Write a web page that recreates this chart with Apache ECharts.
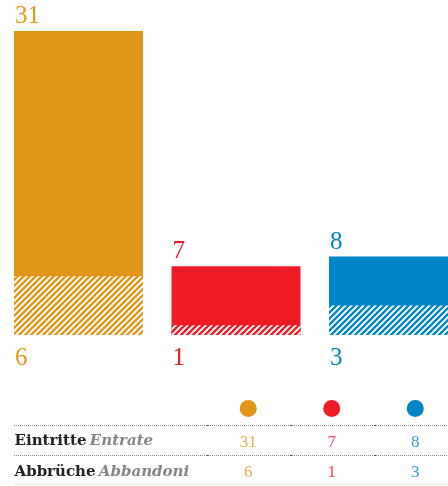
<!DOCTYPE html>
<html>
<head>
<meta charset="utf-8">
<script src="https://cdn.jsdelivr.net/npm/echarts@6/dist/echarts.min.js"></script>
<style>
html,body{margin:0;padding:0;background:#fff;}
#c{width:448px;height:486px;}
</style>
</head>
<body>
<div id="c"></div>
<script>
// ---- data ----
const categories = ['Orange', 'Rot', 'Blau'];
const entrate = [31, 7, 8];
const abbandoni = [6, 1, 3];
const rowDe = ['Eintritte', 'Abbrüche'];
const rowIt = ['Entrate', 'Abbandoni'];
const tableRows = ['', 'Entrate', 'Abbandoni'];

// ---- styles ----
const palette = ['#E1961A', '#ED1C24', '#0084C8'];
const SERIF = '"Liberation Serif", "DejaVu Serif", serif';
const SERIF2 = '"DejaVu Serif", "Liberation Serif", serif';

function hatch(color) {
  const c = document.createElement('canvas');
  c.width = 6; c.height = 6;
  const g = c.getContext('2d');
  g.fillStyle = '#fff';
  g.fillRect(0, 0, 6, 6);
  g.strokeStyle = color;
  g.lineWidth = 2.3;
  g.beginPath();
  g.moveTo(-1, 7); g.lineTo(7, -1);
  g.moveTo(-4, 4); g.lineTo(4, -4);
  g.moveTo(2, 10); g.lineTo(10, 2);
  g.stroke();
  return { image: c, repeat: 'repeat' };
}

const chart = echarts.init(document.getElementById('c'), null, { renderer: 'canvas' });

const rules = [425.5, 455.5];
const seps = [207, 290, 374];
const graphics = [];
rules.forEach(y => {
  graphics.push({ type: 'line', shape: { x1: 14, y1: y, x2: 448, y2: y }, style: { stroke: '#8a8a8a', lineWidth: 1, lineDash: [1, 1] }, silent: true });
  seps.forEach(x => graphics.push({ type: 'rect', shape: { x: x, y: y - 0.5, width: 2, height: 1 }, style: { fill: '#444' }, silent: true }));
});
graphics.push({ type: 'line', shape: { x1: 14, y1: 484.5, x2: 448, y2: 484.5 }, style: { stroke: '#cfcfcf', lineWidth: 1, lineDash: [1, 1] }, silent: true });

const option = {
  animation: false,
  backgroundColor: '#fff',
  grid: [
    { left: -0.25, top: 31, width: 472.5, height: 304, outerBoundsMode: 'none', containLabel: false },
    { left: 206.5, top: 393, width: 250.5, height: 93, outerBoundsMode: 'none', containLabel: false }
  ],
  xAxis: [
    { type: 'category', gridIndex: 0, data: categories, show: false },
    { type: 'category', gridIndex: 1, data: categories, show: false }
  ],
  yAxis: [
    { type: 'value', gridIndex: 0, min: 0, max: 31, show: false },
    {
      type: 'category', gridIndex: 1, data: tableRows, inverse: true,
      axisLine: { show: false }, axisTick: { show: false }, splitLine: { show: false },
      axisLabel: {
        show: true, align: 'left', margin: 192,
        formatter: function (v, i) {
          if (i === 0) return '';
          return '{b|' + rowDe[i - 1] + '} {i|' + rowIt[i - 1] + '}';
        },
        rich: {
          b: { fontFamily: SERIF2, fontWeight: 'bold', fontSize: 15, color: '#222', padding: [4, 0, 0, 0] },
          i: { fontFamily: SERIF2, fontWeight: 'bold', fontStyle: 'italic', fontSize: 15, color: '#858585', padding: [4, 0, 0, 0] }
        }
      }
    }
  ],
  graphic: graphics,
  series: [
    {
      name: 'Entrate', type: 'bar', xAxisIndex: 0, yAxisIndex: 0, barWidth: 129,
      data: entrate.map((v, i) => ({
        value: v,
        itemStyle: { color: palette[i] },
        label: { color: palette[i] }
      })),
      label: {
        show: true, position: [1, -2], align: 'left', verticalAlign: 'bottom',
        fontFamily: SERIF, fontSize: 25
      }
    },
    {
      name: 'Abbandoni', type: 'bar', xAxisIndex: 0, yAxisIndex: 0, barWidth: 129, barGap: '-100%',
      data: abbandoni.map((v, i) => ({
        value: v,
        itemStyle: { color: hatch(palette[i]) },
        label: { color: palette[i] }
      })),
      label: {
        show: true, position: [1, '100%'], align: 'left', verticalAlign: 'top', offset: [0, 11],
        fontFamily: SERIF, fontSize: 25
      }
    },
    {
      name: 'dots', type: 'scatter', xAxisIndex: 1, yAxisIndex: 1, symbolSize: 17,
      data: categories.map((c, i) => ({ value: [i, 0], itemStyle: { color: palette[i], opacity: 1 } }))
    },
    {
      name: 'tEntrate', type: 'scatter', xAxisIndex: 1, yAxisIndex: 1, symbolSize: 1,
      itemStyle: { color: 'transparent' },
      data: entrate.map((v, i) => ({ value: [i, 1, v], label: { color: palette[i] } })),
      label: { show: true, position: 'inside', offset: [0, 3], formatter: p => p.value[2], fontFamily: SERIF, fontSize: 17 }
    },
    {
      name: 'tAbbandoni', type: 'scatter', xAxisIndex: 1, yAxisIndex: 1, symbolSize: 1,
      itemStyle: { color: 'transparent' },
      data: abbandoni.map((v, i) => ({ value: [i, 2, v], label: { color: palette[i] } })),
      label: { show: true, position: 'inside', offset: [0, 2], formatter: p => p.value[2], fontFamily: SERIF, fontSize: 17 }
    }
  ]
};
chart.setOption(option);
</script>
</body>
</html>
